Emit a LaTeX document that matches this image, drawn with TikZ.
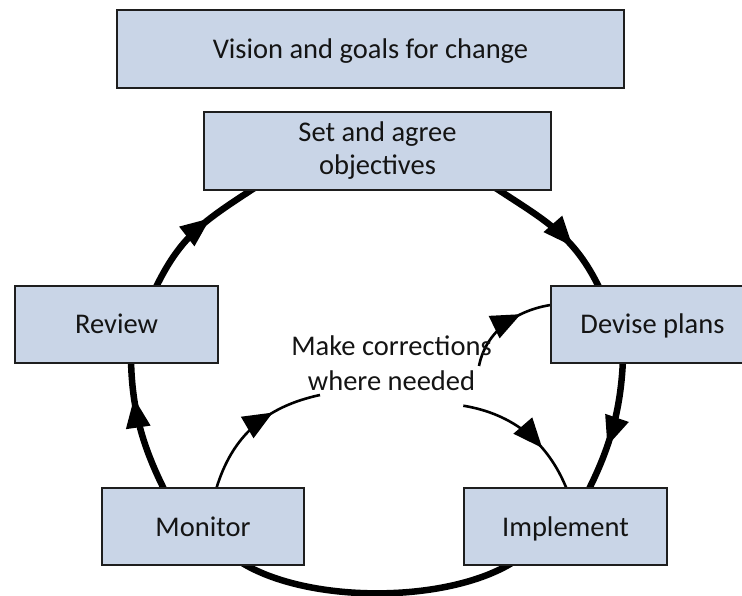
\documentclass[tikz,border=0pt]{standalone}
\usepackage{fontspec}
\setmainfont{Carlito}
\usetikzlibrary{decorations.markings,calc,backgrounds}
\definecolor{boxfill}{RGB}{201,213,231}
\definecolor{boxline}{RGB}{30,30,30}
\definecolor{inktext}{RGB}{20,20,20}
\begin{document}
\begin{tikzpicture}[x=1pt,y=-1pt,
  boxbase/.style={draw=boxline, line width=1.8pt, fill=boxfill, inner sep=0pt, text=inktext},
  box/.style={boxbase, font=\fontsize{28.5}{35}\selectfont, text height=19pt, text depth=0pt},
  bigarc/.style={line width=6.5pt, draw=black},
  thinarc/.style={line width=2.6pt, draw=black},
  tipat/.style={postaction={decorate}, decoration={markings, mark=at position #1 with {\fill[black] (0pt,0pt) -- (-29.5pt,12.5pt) -- (-29.5pt,-12.5pt) -- cycle;}}}
]
\useasboundingbox (0,0) rectangle (742,596);
\clip (0,0) rectangle (742,596);

% boxes
\node[box, minimum width=507pt, minimum height=78pt] (vis) at (370.5,49) {Vision and goals for change};
\node[boxbase, minimum width=347pt, minimum height=78pt, font=\fontsize{28.5}{33}\selectfont] (obj) at (377.5,151)
  {\begin{tabular}{@{}c@{}}Set and agree\\objectives\end{tabular}};
\node[box, minimum width=203pt, minimum height=77pt] (rev) at (116.5,324.5) {Review};
\node[box, minimum width=203pt, minimum height=77pt] (dev) at (652.5,324.5) {Devise plans};
\node[box, minimum width=202pt, minimum height=77pt] (mon) at (203,526.5) {Monitor};
\node[box, minimum width=203pt, minimum height=77pt] (imp) at (565.5,526.5) {Implement};

% centre text
\node[anchor=base, inner sep=0pt, text=inktext, font=\fontsize{28.5}{35.7}\selectfont] (mc) at (391.5,355)
  {\begin{tabular}[t]{@{}c@{}}Make corrections\\where needed\end{tabular}};

\coordinate (ca) at (320,395);
\coordinate (cb) at (463.3,405.7);
\coordinate (cc) at (479,366);

\begin{pgfonlayer}{background}
% big cycle
\draw[bigarc, tipat=0.63] ($(rev.north)+(38.35,4.5)$) .. controls +(25.8,-54) and +(-50.4,33) .. ($(obj.south)+(-123.3,-2.75)$);
\draw[bigarc, tipat=0.65] ($(obj.south)+(118.3,-2.75)$) .. controls +(50.4,33) and +(-25.8,-54) .. ($(dev.north)+(-52.35,4.5)$);
\draw[bigarc, tipat=0.64] ($(dev.south)+(-29.5,-5)$) .. controls +(-2,50) and +(22.5,-44.5) .. ($(imp.north)+(22.25,4.45)$);
\draw[bigarc] ($(imp.south)+(-54.2,-2.6)$) .. controls +(-66.8,40.1) and +(66.8,40.1) .. ($(mon.south)+(39.7,-2.6)$);
\draw[bigarc, tipat=0.72] ($(mon.north)+(-37.75,4.45)$) .. controls +(-22.5,-44.5) and +(1,50) .. ($(rev.south)+(14.5,-4)$);
% corrections
\draw[thinarc, tipat=0.66] ($(mon.north)+(12.9,2.9)$) .. controls +(16,-54.7) and +(-53.9,11.6) .. (ca);
\draw[thinarc, tipat=0.65] (cb) .. controls +(49.3,8.2) and +(-19.2,-48.4) .. ($(imp.north)+(1.6,2.8)$);
\draw[thinarc, tipat=0.67] (cc) .. controls +(6.7,-34.3) and +(-37.7,5.3) .. ($(dev.west)+(3,-19.9)$);
\end{pgfonlayer}
\end{tikzpicture}
\end{document}
